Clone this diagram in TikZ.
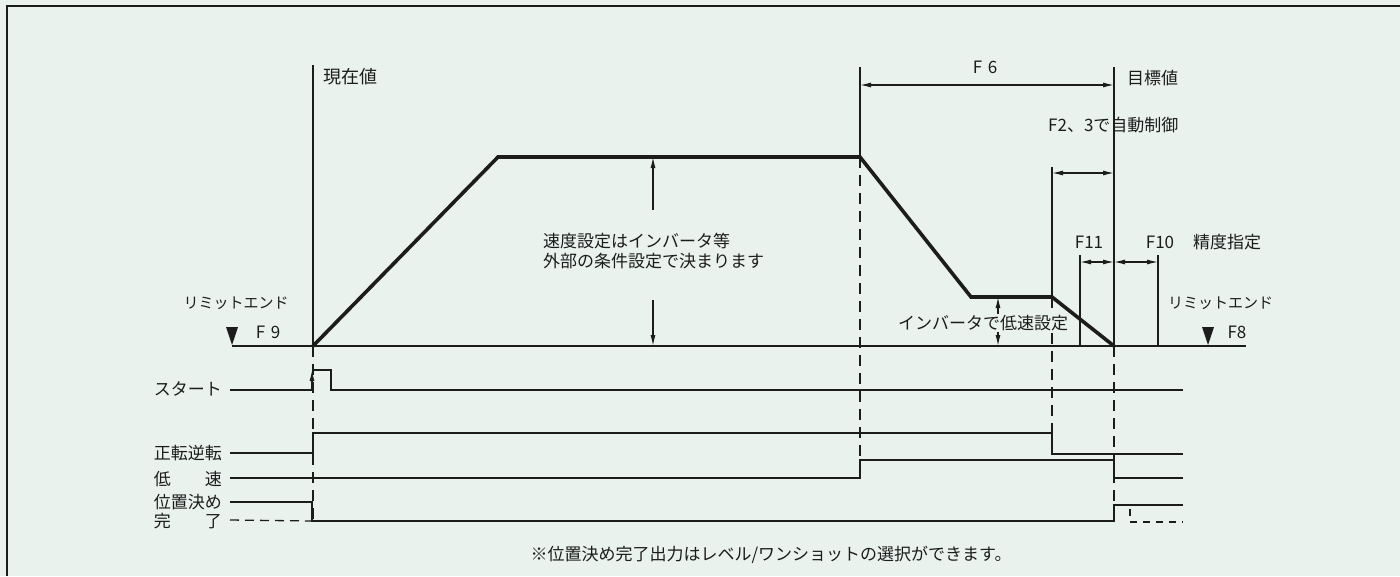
\documentclass[tikz,border=0pt]{standalone}
\usepackage{fontspec}
\setmainfont{Noto Sans CJK JP}
\usetikzlibrary{arrows.meta}
\definecolor{paper}{RGB}{234,242,238}
\definecolor{ink}{RGB}{28,28,28}
\tikzset{
  thinln/.style={draw=ink,line width=1.3pt},
  thickln/.style={draw=ink,line width=3.6pt,line join=miter},
  dashln/.style={draw=ink,line width=1.3pt,dash pattern=on 11pt off 7pt},
  dimarrow/.style={draw=ink,line width=1.2pt,{Latex[length=11pt,width=5pt]}-{Latex[length=11pt,width=5pt]}},
  onearrow/.style={draw=ink,line width=1.2pt,-{Latex[length=11pt,width=5pt]}},
  lbl/.style={text=ink,inner sep=0pt,font=\fontsize{17}{20}\selectfont},
  slbl/.style={text=ink,inner sep=0pt,font=\fontsize{15}{18}\selectfont},
  limmark/.style={fill=ink,draw=none}
}
\begin{document}
\begin{tikzpicture}[x=1pt,y=-1pt]
\fill[paper] (0,0) rectangle (1400,576);
\useasboundingbox (0,0) rectangle (1400,576);
% frame
\draw[thinln] (7,576) -- (7,6) -- (1400,6);

% key coordinates
\coordinate (O) at (313,346);
\coordinate (BL) at (232,346);
\coordinate (BR) at (1246,346);
\coordinate (P1) at (498,157);
\coordinate (P2) at (860,157);
\coordinate (P3) at (971,297);
\coordinate (P4) at (1052,297);
\coordinate (T) at (1114,346);

% baseline
\draw[thinln] (BL) -- (BR);
% speed profile
\draw[thickln] (O) -- (P1) -- (P2) -- (P3) -- (P4) -- (T);

% verticals
\coordinate (V0t) at (313,65);   \coordinate (V0b) at (313,520);
\coordinate (V1t) at (860,67);   \coordinate (V1b) at (860,460);
\coordinate (V2t) at (1114,67);  \coordinate (V2b) at (1114,505);
\coordinate (V3t) at (1052,167); \coordinate (V3b) at (1052,454);
\coordinate (V4t) at (1080,255); \coordinate (V4b) at (1080,346);
\coordinate (V5t) at (1158,255); \coordinate (V5b) at (1158,346);
\draw[thinln] (V0t) -- (O);
\draw[dashln] (O) -- (V0b);
\draw[thinln] (V1t) -- (P2);
\draw[dashln] (P2) -- (V1b);
\draw[thinln] (V2t) -- (T);
\draw[dashln] (T) -- (V2b);
\draw[thinln] (V3t) -- (P4);
\draw[dashln] (P4) -- (V3b);
\draw[thinln] (V4t) -- (V4b);
\draw[thinln] (V5t) -- (V5b);

% dimension arrows
\coordinate (F6a) at (860,85);   \coordinate (F6b) at (1114,85);
\coordinate (Aa) at (1052,173);  \coordinate (Ab) at (1114,173);
\coordinate (F11a) at (1080,262); \coordinate (Fm) at (1114,262); \coordinate (F10b) at (1158,262);
\draw[dimarrow] (F6a) -- (F6b);
\draw[dimarrow] (Aa) -- (Ab);
\draw[dimarrow] (F11a) -- (Fm);
\draw[dimarrow] (Fm) -- (F10b);

% speed setting arrows
\coordinate (Sa) at (653,210); \coordinate (Sat) at (653,157);
\coordinate (Sb) at (653,300); \coordinate (Sbt) at (653,346);
\draw[onearrow] (Sa) -- (Sat);
\draw[onearrow] (Sb) -- (Sbt);
\node[lbl,anchor=north west,align=left,font=\fontsize{17}{19.5}\selectfont] (speedtxt) at (543,233)
  {速度設定はインバータ等\\外部の条件設定で決まります};

% low-speed arrow with label
\coordinate (La) at (998,297); \coordinate (Lb) at (998,346);
\draw[dimarrow] (La) -- (Lb);
\node[lbl,fill=paper,inner sep=1pt] (lowtxt) at (983,323) {インバータで低速設定};

% limit end markers
\fill[limmark] (226,327) -- (238,327) -- (232,345) -- cycle;
\fill[limmark] (1202,327) -- (1214,327) -- (1208,345) -- cycle;
\node[slbl] (le1) at (236,303) {リミットエンド};
\node[lbl] (f9) at (268,332) {F\,\,9};
\node[slbl,anchor=west] (le2) at (1168,303) {リミットエンド};
\node[lbl] (f8) at (1237,332) {F8};

% top labels
\node[lbl,anchor=west,font=\fontsize{18}{20}\selectfont] (cur) at (323,77) {現在値};
\node[lbl,anchor=west] (tgt) at (1127,78) {目標値};
\node[lbl] (f6) at (985,67) {F\,\,6};
\node[lbl,anchor=west] (auto) at (1048,125) {F2、3で自動制御};
\node[lbl] (f11) at (1089,242) {F11};
\node[lbl] (f10) at (1160,242) {F10};
\node[lbl,anchor=west] (prec) at (1193,242) {精度指定};

% signal labels
\node[lbl,anchor=east] (s1) at (222,389) {スタート};
\node[lbl,anchor=east] (s2) at (222,453) {正転逆転};
\node[lbl,anchor=east] (s3) at (222,479) {低　　速};
\node[lbl,anchor=east] (s4) at (222,502) {位置決め};
\node[lbl,anchor=east] (s5) at (222,521) {完　　了};

% start signal
\coordinate (st0) at (230,390); \coordinate (st1) at (312,390);
\coordinate (st2) at (312,370); \coordinate (st3) at (331,370);
\coordinate (st4) at (331,390); \coordinate (st5) at (1183,390);
\draw[thinln] (st0) -- (st1);
\draw[onearrow] (st1) -- (st2);
\draw[thinln] (st2) -- (st3) -- (st4) -- (st5);

% forward/reverse
\coordinate (fr0) at (230,453); \coordinate (fr1) at (313,453);
\coordinate (fr2) at (313,433); \coordinate (fr3) at (1052,433);
\coordinate (fr4) at (1052,454); \coordinate (fr5) at (1183,454);
\draw[thinln] (fr0) -- (fr1) -- (fr2) -- (fr3) -- (fr4) -- (fr5);

% low speed
\coordinate (ls0) at (230,478); \coordinate (ls1) at (860,478);
\coordinate (ls2) at (860,460); \coordinate (ls3) at (1114,460);
\coordinate (ls4) at (1114,478); \coordinate (ls5) at (1183,478);
\draw[thinln] (ls0) -- (ls1) -- (ls2) -- (ls3) -- (ls4) -- (ls5);

% positioning complete
\coordinate (pc0) at (230,502); \coordinate (pc1) at (312,502);
\coordinate (pc2) at (312,521); \coordinate (pc3) at (1114,521);
\coordinate (pc4) at (1114,505); \coordinate (pc5) at (1183,505);
\draw[thinln] (pc0) -- (pc1) -- (pc2) -- (pc3) -- (pc4) -- (pc5);
\coordinate (pd0) at (230,520);
\draw[dashln,dash pattern=on 9pt off 6pt] (pd0) -- (pc2);
\coordinate (pd1) at (1130,509); \coordinate (pd2) at (1130,522); \coordinate (pd3) at (1183,522);
\draw[dashln,dash pattern=on 7pt off 6pt] (pd1) -- (pd2) -- (pd3);

% footnote
\node[lbl] (note) at (771,555) {※位置決め完了出力はレベル/ワンショットの選択ができます。};
\end{tikzpicture}
\end{document}
